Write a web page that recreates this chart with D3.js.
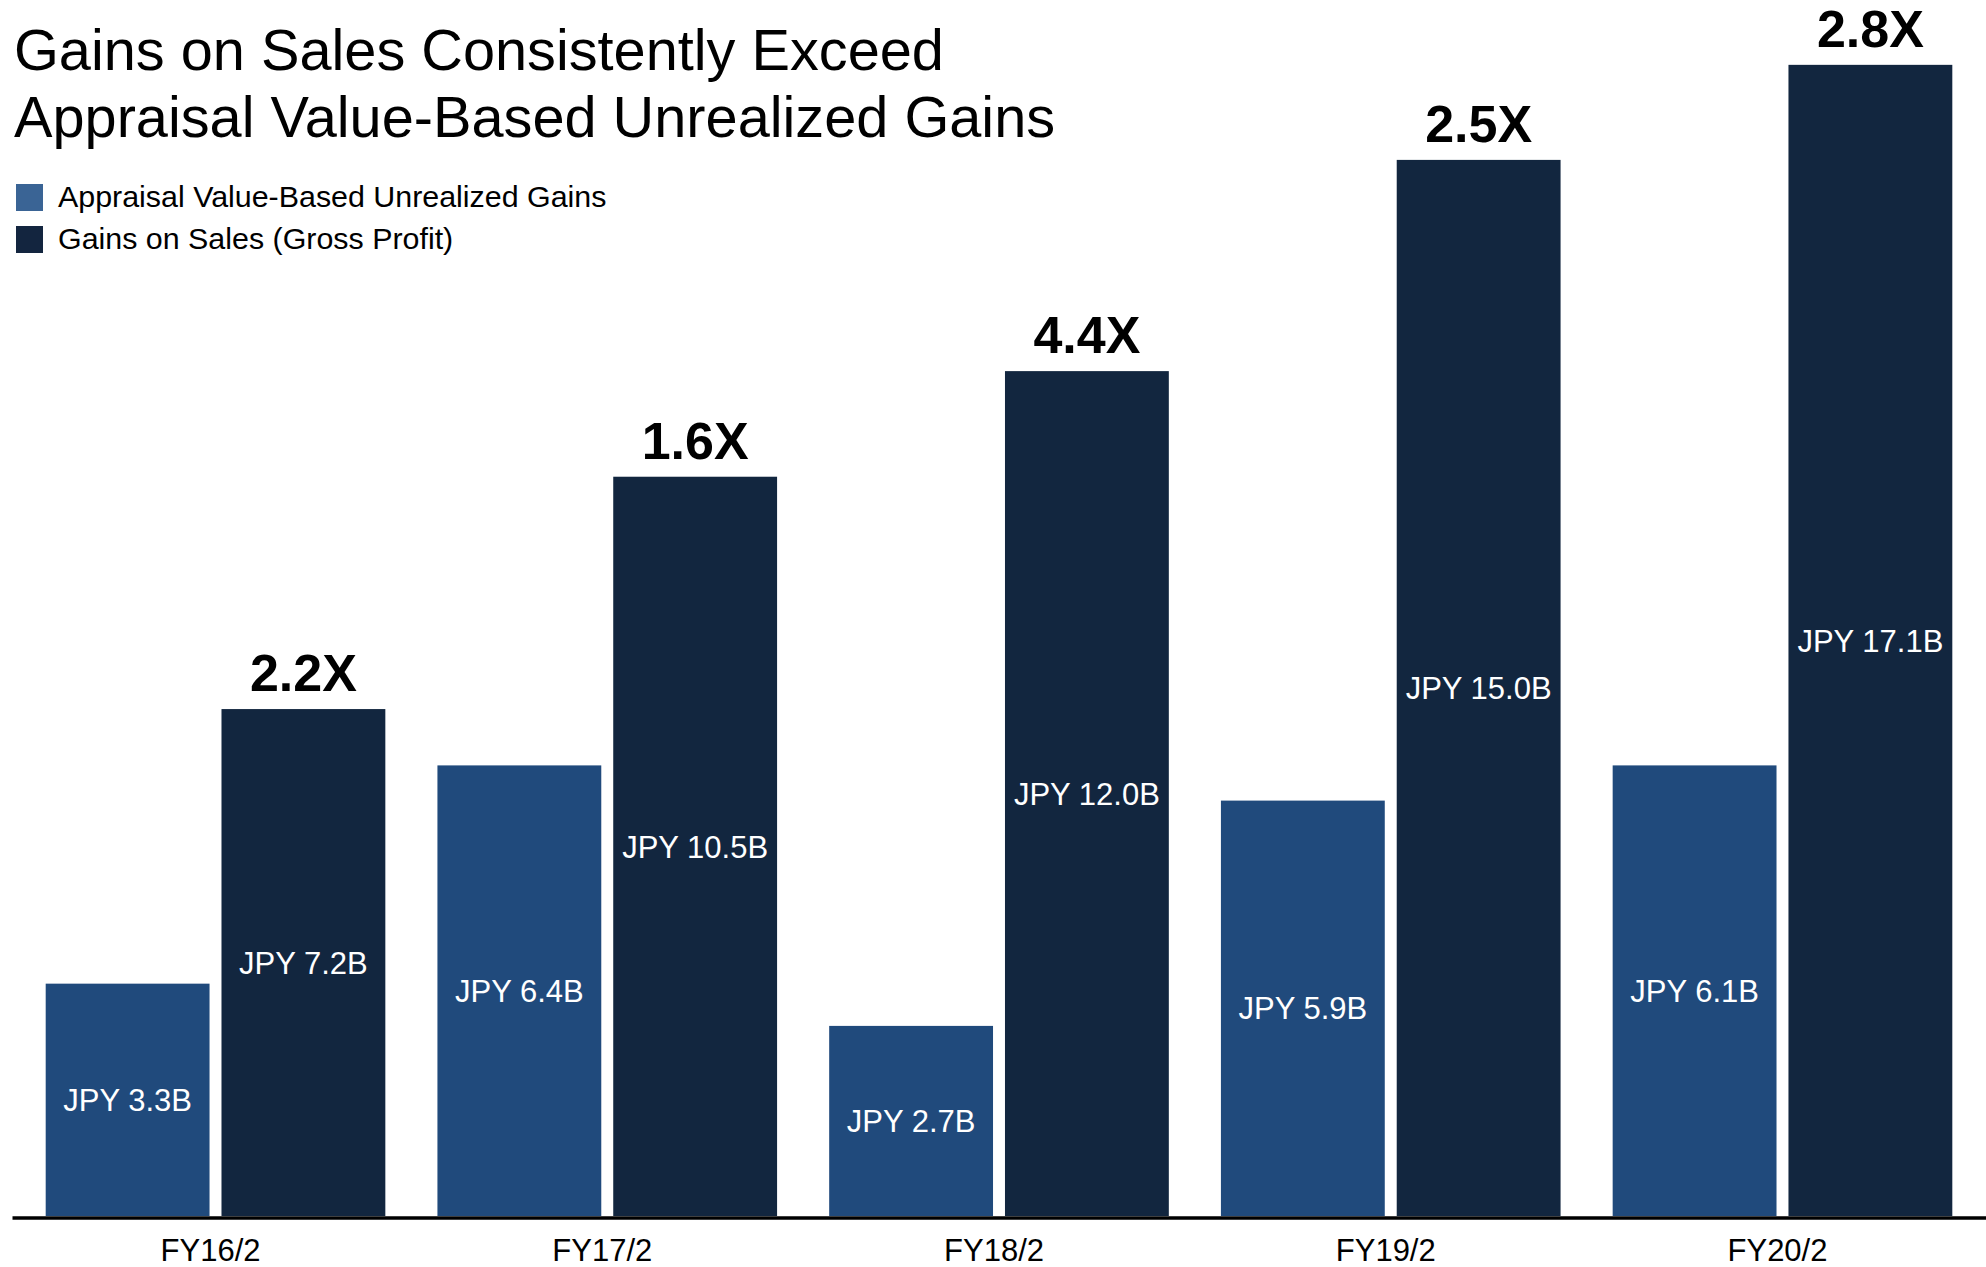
<!DOCTYPE html>
<html>
<head>
<meta charset="utf-8">
<script src="https://cdn.jsdelivr.net/npm/d3@7"></script>
<style>
	body { margin: 0; background: #fff; }
	svg { display: block; font-family: "Liberation Sans", Arial, sans-serif; }
</style>
</head>
<body>
<div id="chart-area"></div>
<script>
// data
const years = ["FY16/2", "FY17/2", "FY18/2", "FY19/2", "FY20/2"];
const seriesNames = ["Appraisal Value-Based Unrealized Gains", "Gains on Sales (Gross Profit)"];
// bar heights as drawn in the picture (JPY B)
const appraisalGains = [3.3, 6.4, 2.7, 5.9, 6.4];
const salesGains = [7.2, 10.5, 12.0, 15.0, 16.35];
// printed labels
const appraisalLabels = ["JPY 3.3B", "JPY 6.4B", "JPY 2.7B", "JPY 5.9B", "JPY 6.1B"];
const salesLabels = ["JPY 7.2B", "JPY 10.5B", "JPY 12.0B", "JPY 15.0B", "JPY 17.1B"];
const multiples = ["2.2X", "1.6X", "4.4X", "2.5X", "2.8X"];

const width = 1986, height = 1267;
const baseline = 1216;
const colors = ["#204a7c", "#12263f"];
const legendColors = ["#3a6495", "#13253f"];

const svg = d3.select("#chart-area")
	.append("svg")
		.attr("width", width)
		.attr("height", height);

svg.append("rect").attr("width", width).attr("height", height).attr("fill", "#fff");

// title
svg.append("text")
	.attr("x", 14)
	.attr("y", 70)
	.attr("font-size", 57.7)
	.attr("fill", "#000")
	.text("Gains on Sales Consistently Exceed");
svg.append("text")
	.attr("x", 14)
	.attr("y", 137)
	.attr("font-size", 57.7)
	.attr("fill", "#000")
	.text("Appraisal Value-Based Unrealized Gains");

// legend
const legend = svg.selectAll(".legend")
	.data(seriesNames)
	.enter()
	.append("g")
		.attr("transform", (d, i) => "translate(16, " + (184 + i * 42) + ")");
legend.append("rect")
	.attr("width", 27)
	.attr("height", 27)
	.attr("fill", (d, i) => legendColors[i]);
legend.append("text")
	.attr("x", 42)
	.attr("y", 23)
	.attr("font-size", 30.4)
	.attr("fill", "#000")
	.text(d => d);

// scales
const x0 = d3.scaleBand()
	.domain(years)
	.range([12, 1986])
	.paddingInner(0.133)
	.paddingOuter(0.086);

const x1 = d3.scaleBand()
	.domain([0, 1])
	.range([0, x0.bandwidth()])
	.paddingInner(0.068);

const y = d3.scaleLinear()
	.domain([0, 17.2])
	.range([baseline, 5]);

const data = years.map((yr, i) => ({
	year: yr,
	bars: [
		{ s: 0, v: appraisalGains[i], label: appraisalLabels[i] },
		{ s: 1, v: salesGains[i], label: salesLabels[i] }
	],
	mult: multiples[i]
}));

const groups = svg.selectAll(".group")
	.data(data)
	.enter()
	.append("g")
		.attr("transform", d => "translate(" + x0(d.year) + ", 0)");

const bars = groups.selectAll(".bar")
	.data(d => d.bars)
	.enter();

bars.append("rect")
	.attr("x", d => x1(d.s))
	.attr("y", d => y(d.v))
	.attr("width", x1.bandwidth())
	.attr("height", d => baseline - y(d.v))
	.attr("fill", d => colors[d.s]);

bars.append("text")
	.attr("x", d => x1(d.s) + x1.bandwidth() / 2)
	.attr("y", d => (y(d.v) + baseline) / 2)
	.attr("dy", "0.36em")
	.attr("text-anchor", "middle")
	.attr("font-size", 31)
	.attr("fill", "#fff")
	.text(d => d.label);

// multiples above the gains on sales bars
groups.append("text")
	.attr("x", x1(1) + x1.bandwidth() / 2)
	.attr("y", d => y(d.bars[1].v) - 18)
	.attr("text-anchor", "middle")
	.attr("font-size", 52)
	.attr("font-weight", "bold")
	.attr("fill", "#000")
	.text(d => d.mult);

// x-axis
const xAxisCall = d3.axisBottom(x0).tickSize(0).tickPadding(21);
const xAxis = svg.append("g")
	.attr("transform", "translate(0, " + (baseline + 1.5) + ")")
	.call(xAxisCall);
xAxis.select(".domain")
	.attr("stroke", "#000")
	.attr("stroke-width", 3.5);
xAxis.selectAll("text")
	.attr("font-size", 31)
	.attr("font-family", "Liberation Sans, Arial, sans-serif")
	.attr("fill", "#000")
	.attr("dx", -5);
</script>
</body>
</html>
